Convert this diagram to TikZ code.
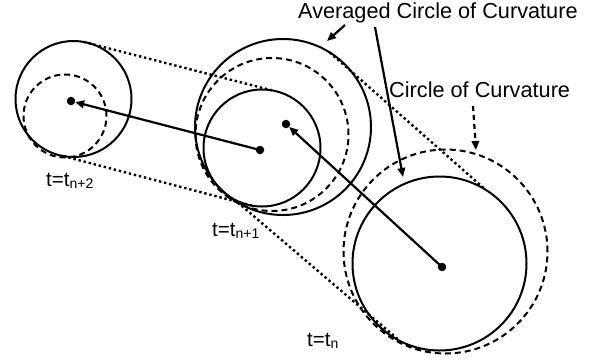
\documentclass[tikz,border=0pt]{standalone}
\usepackage{fontspec}
\setmainfont{Liberation Sans}
\usetikzlibrary{arrows.meta}
\begin{document}
\begin{tikzpicture}[x=1pt,y=-1pt,
  solidc/.style={circle, draw, line width=2pt, inner sep=0, outer sep=0},
  dashc/.style={circle, draw, line width=2pt, dash pattern=on 6pt off 4pt, inner sep=0, outer sep=0},
  hull/.style={line width=2.4pt, dash pattern=on 2.4pt off 2.8pt},
  ctr/.style={circle, fill, inner sep=0, outer sep=0, minimum size=8.5pt},
  pointer/.style={line width=2.2pt, -{Triangle[length=9pt,width=7.5pt]}},
  dpointer/.style={line width=2.2pt, dash pattern=on 5pt off 4pt, -{Triangle[length=9pt,width=7.5pt]}},
  title/.style={anchor=base west, inner sep=0, font=\fontsize{21.7}{22}\selectfont},
  tlabel/.style={anchor=base west, inner sep=0, font=\fontsize{20.5}{21}\selectfont}
]
\useasboundingbox (0,0) rectangle (608,360);
\newcommand{\subsc}[1]{{\fontsize{14}{14}\selectfont\raisebox{-2.5pt}{#1}}}

% left group (t = t_{n+2})
\node[solidc, minimum size=116pt] (L) at (73.5,99) {};
\node[dashc, minimum size=83pt] (Ld) at (65,116) {};
\node[ctr] (dL) at (71,101) {};

% middle group (t = t_{n+1})
\node[solidc, minimum size=176pt] (M1) at (283,127) {};
\node[dashc, minimum size=153pt] (M2) at (272,134.5) {};
\node[solidc, minimum size=117pt] (M3) at (262,148) {};
\node[ctr] (dM3) at (260,150) {};
\node[ctr] (dM1) at (286,124) {};

% right group (t = t_n)
\node[solidc, minimum size=174pt] (R1) at (439.5,263.5) {};
\node[dashc, minimum size=204pt] (R2) at (445.5,251.5) {};
\node[ctr] (dR) at (442,267) {};

% dotted hull lines
\draw[hull] (L.80) -- (M3.80);
\draw[hull] (L.260) -- (M3.260);
\draw[hull] (M1.58) -- (R1.58);
\draw[hull] (M1.239) -- (R1.243);

% centre movement arrows
\draw[pointer] (dM3.center) -- (dL);
\draw[pointer] (dR.center) -- (dM1);

% labels
\node[title] (tA) at (298,18) {Averaged Circle of Curvature};
\node[title] (tC) at (389,97) {Circle of Curvature};
\node[tlabel] (t2) at (46,186) {t=t\subsc{n+2}};
\node[tlabel] (t1) at (212,236) {t=t\subsc{n+1}};
\node[tlabel] (t0) at (307,346) {t=t\subsc{n}};

% label pointers
\coordinate (a1s) at (345,25);
\coordinate (a1e) at (327,41);
\coordinate (a2s) at (375,27);
\coordinate (a2e) at (403,177);
\coordinate (a3s) at (473,106);
\coordinate (a3e) at (476,150);
\draw[pointer] (a1s) -- (a1e);
\draw[pointer] (a2s) -- (a2e);
\draw[dpointer] (a3s) -- (a3e);
\end{tikzpicture}
\end{document}
